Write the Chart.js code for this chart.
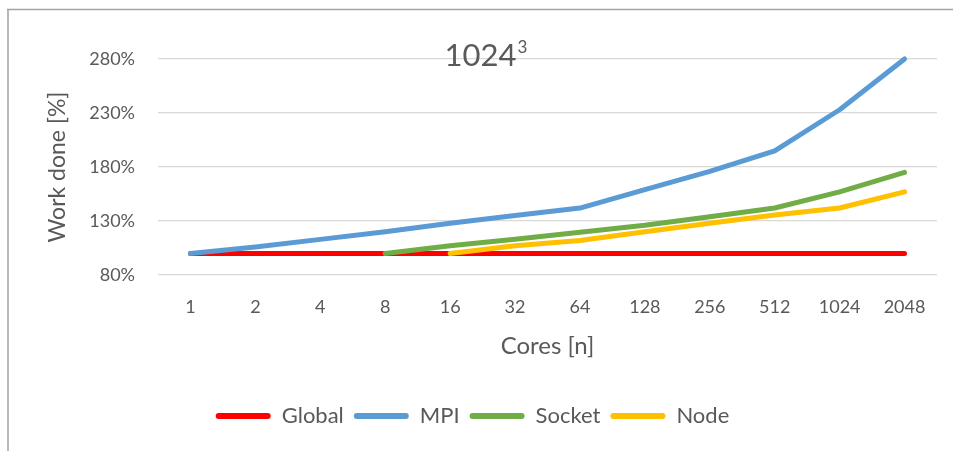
<!DOCTYPE html>
<html>
<head>
<meta charset="utf-8">
<script src="https://cdn.jsdelivr.net/npm/chart.js@4/dist/chart.umd.min.js"></script>
<style>
  html, body { margin: 0; padding: 0; background: #ffffff; }
  #wrap { width: 953px; height: 451px; position: relative; }
</style>
</head>
<body>
<div id="wrap"><canvas id="chart" width="953" height="451"></canvas></div>
<script>
// Core counts on the x axis
const cores = ['1', '2', '4', '8', '16', '32', '64', '128', '256', '512', '1024', '2048'];

// Work done relative to the single-core run, in percent
const globalWork = [100, 100, 100, 100, 100, 100, 100, 100, 100, 100, 100, 100];
const mpiWork    = [100, 106, 113, 120, 128, 135, 142, 159, 176, 195, 233, 280];
const socketWork = [null, null, null, 100, 107, 113, 119.5, 126, 134, 142, 157, 175];
const nodeWork   = [null, null, null, null, 100, 107, 112, 120, 128, 135.5, 142, 157];

// Y axis range and step
const yMin = 80;
const yMax = 280;
const yStep = 50;

const textColor = '#595959';
const fontFamily = 'Lato, "Open Sans", sans-serif';

// Title "1024³" drawn inside the plot area, plus the frame lines
const decorPlugin = {
  id: 'decor',
  beforeDraw(chart) {
    const ctx = chart.ctx;
    ctx.save();
    ctx.strokeStyle = '#a3a3a3';
    ctx.lineWidth = 1.5;
    ctx.beginPath();
    ctx.moveTo(7, 9.5);
    ctx.lineTo(953, 9.5);
    ctx.moveTo(8, 9);
    ctx.lineTo(8, 451);
    ctx.stroke();
    ctx.restore();
  },
  afterDraw(chart) {
    const ctx = chart.ctx;
    ctx.save();
    ctx.fillStyle = textColor;
    ctx.textBaseline = 'alphabetic';
    ctx.textAlign = 'left';
    ctx.font = '31px ' + fontFamily;
    const base = '1024';
    const w = ctx.measureText(base).width;
    ctx.font = '17px ' + fontFamily;
    const sw = ctx.measureText('3').width;
    const x0 = 486 - (w + 1 + sw) / 2;
    ctx.font = '31px ' + fontFamily;
    ctx.fillText(base, x0, 66);
    ctx.font = '17px ' + fontFamily;
    ctx.fillText('3', x0 + w + 1, 53);
    ctx.restore();
  }
};

const lineStyle = {
  borderWidth: 5,
  pointRadius: 0,
  pointHoverRadius: 0,
  tension: 0,
  borderCapStyle: 'round',
  borderJoinStyle: 'round',
  fill: false,
  clip: 6
};

new Chart(document.getElementById('chart'), {
  type: 'line',
  data: {
    labels: cores,
    datasets: [
      Object.assign({ label: 'Global', data: globalWork, borderColor: '#FF0000', backgroundColor: '#FF0000', order: 3 }, lineStyle),
      Object.assign({ label: 'MPI', data: mpiWork, borderColor: '#5B9BD5', backgroundColor: '#5B9BD5', order: 2 }, lineStyle),
      Object.assign({ label: 'Socket', data: socketWork, borderColor: '#70AD47', backgroundColor: '#70AD47', order: 1 }, lineStyle),
      Object.assign({ label: 'Node', data: nodeWork, borderColor: '#FFC000', backgroundColor: '#FFC000', order: 0 }, lineStyle)
    ]
  },
  options: {
    responsive: false,
    animation: false,
    devicePixelRatio: 1,
    layout: { padding: { left: 8, top: 59, right: 16, bottom: 14 } },
    plugins: {
      tooltip: { enabled: false },
      title: { display: false },
      legend: {
        position: 'bottom',
        labels: {
          color: textColor,
          font: { family: fontFamily, size: 22 },
          boxWidth: 55,
          boxHeight: 6,
          padding: 10,
          useBorderRadius: true,
          borderRadius: 3,
          generateLabels(chart) {
            return chart.data.datasets.map((ds, i) => ({
              text: ds.label,
              fillStyle: ds.borderColor,
              strokeStyle: ds.borderColor,
              lineWidth: 0,
              hidden: false,
              datasetIndex: i,
              fontColor: textColor,
              borderRadius: 3
            }));
          }
        }
      }
    },
    scales: {
      x: {
        offset: true,
        grid: { display: false, drawTicks: false },
        border: { display: false },
        ticks: {
          color: textColor,
          font: { family: fontFamily, size: 18 },
          padding: 21,
          maxRotation: 0,
          autoSkip: false
        },
        title: {
          display: true,
          text: 'Cores [n]',
          color: textColor,
          font: { family: fontFamily, size: 24 },
          padding: { top: 0, bottom: 34 }
        },
        afterFit(scale) { scale.height = 120; }
      },
      y: {
        min: yMin,
        max: yMax,
        grid: { color: '#d9d9d9', lineWidth: 1.3, drawTicks: false },
        border: { display: false },
        ticks: {
          stepSize: yStep,
          color: textColor,
          font: { family: fontFamily, size: 18 },
          padding: 23,
          callback: (v) => v + '%'
        },
        title: {
          display: true,
          text: 'Work done [%]',
          color: textColor,
          font: { family: fontFamily, size: 23 },
          padding: { top: 36, bottom: 0 }
        },
        afterFit(scale) { scale.width = 150; }
      }
    }
  },
  plugins: [decorPlugin]
});
</script>
</body>
</html>
